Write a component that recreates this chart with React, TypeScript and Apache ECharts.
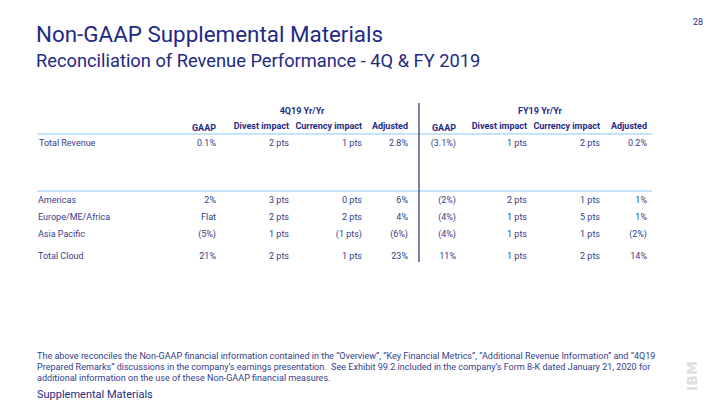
import React, { useEffect, useRef } from "react";
import * as echarts from "echarts";

const pageTitle = "Non-GAAP Supplemental Materials";
const pageSubtitle = "Reconciliation of Revenue Performance - 4Q & FY 2019";
const pageNumber = "28";
const groupLabels = ["4Q19 Yr/Yr", "FY19 Yr/Yr"];
const columnHeaders = ["GAAP", "Divest impact", "Currency impact", "Adjusted", "GAAP", "Divest impact", "Currency impact", "Adjusted"];
const rowLabels = ["Total Revenue", "Americas", "Europe/ME/Africa", "Asia Pacific", "Total Cloud"];
const q4Gaap = ["0.1%", "2%", "Flat", "(5%)", "21%"];
const q4Divest = ["2 pts", "3 pts", "2 pts", "1 pts", "2 pts"];
const q4Currency = ["1 pts", "0 pts", "2 pts", "(1 pts)", "1 pts"];
const q4Adjusted = ["2.8%", "6%", "4%", "(6%)", "23%"];
const fyGaap = ["(3.1%)", "(2%)", "(4%)", "(4%)", "11%"];
const fyDivest = ["1 pts", "2 pts", "1 pts", "1 pts", "1 pts"];
const fyCurrency = ["2 pts", "1 pts", "5 pts", "1 pts", "2 pts"];
const fyAdjusted = ["0.2%", "1%", "1%", "(2%)", "14%"];
const footnoteLines = [
  "The above reconciles the Non-GAAP financial information contained in the \u201cOverview\u201d, \u201cKey Financial Metrics\u201d, \u201cAdditional Revenue Information\u201d and \u201c4Q19",
  "Prepared Remarks\u201d discussions in the company\u2019s earnings presentation.  See Exhibit 99.2 included in the company\u2019s Form 8-K dated January 21, 2020 for",
  "additional information on the use of these Non-GAAP financial measures.",
];
const footerLabel = "Supplemental Materials";
const logoText = "IBM";

const NAVY = "#1f2a85";
const TABLE_TEXT = "#34408a";
const LINE_BLUE = "#8ccaf7";
const FONT = "Roboto";

export default function App() {
  const ref = useRef<HTMLDivElement>(null);
  useEffect(() => {
    if (!ref.current) return;
    const chart = echarts.init(ref.current, undefined, { renderer: "svg" });
    const colRight = [216, 289, 362, 408, 456, 527, 600, 647];
    const rowY = [143, 200, 217, 234, 256];
    const columns = [q4Gaap, q4Divest, q4Currency, q4Adjusted, fyGaap, fyDivest, fyCurrency, fyAdjusted];
    const els: any[] = [];
    const txt = (x: number, y: number, text: string, size: number, opts: any = {}) => ({
      type: "text",
      x,
      y,
      silent: true,
      style: {
        text,
        fontFamily: FONT,
        fontSize: size,
        fill: opts.fill || TABLE_TEXT,
        fontWeight: opts.weight || "normal",
        align: opts.align || "left",
        verticalAlign: "middle",
      },
    });
    els.push(txt(36, 34, pageTitle, 22.4, { fill: NAVY }));
    els.push(txt(36, 60, pageSubtitle, 18.3, { fill: NAVY }));
    els.push(txt(693, 22, pageNumber, 9, { fill: NAVY }));
    els.push(txt(302, 111, groupLabels[0], 9, { fill: NAVY, weight: "bold", align: "center" }));
    els.push(txt(540, 111, groupLabels[1], 9, { fill: NAVY, weight: "bold", align: "center" }));
    columnHeaders.forEach((h, i) => {
      const y = h === "GAAP" ? 128 : 126;
      els.push(txt(colRight[i], y, h, 9, { fill: NAVY, weight: "bold", align: "right" }));
    });
    els.push({ type: "line", silent: true, shape: { x1: 37, y1: 134, x2: 652, y2: 134 }, style: { stroke: LINE_BLUE, lineWidth: 1.2 } });
    els.push({ type: "line", silent: true, shape: { x1: 37, y1: 191, x2: 652, y2: 191 }, style: { stroke: LINE_BLUE, lineWidth: 1.2 } });
    els.push({ type: "line", silent: true, shape: { x1: 419, y1: 103, x2: 419, y2: 262 }, style: { stroke: NAVY, lineWidth: 1.2 } });
    rowLabels.forEach((r, ri) => {
      els.push(txt(ri === 0 ? 39 : 38, rowY[ri], r, 9));
      columns.forEach((col, ci) => {
        els.push(txt(colRight[ci], rowY[ri], col[ri], 9, { align: "right" }));
      });
    });
    const footY = [356, 367, 378];
    footnoteLines.forEach((l, i) => els.push(txt(37, footY[i], l, 9.05)));
    els.push(txt(37, 394, footerLabel, 11, { fill: NAVY }));
    els.push({
      type: "text",
      x: 692,
      y: 376,
      rotation: Math.PI / 2,
      silent: true,
      style: { text: logoText, fontFamily: "DejaVu Sans", fontWeight: "bold", fontSize: 14, fill: "#cdcdcd", align: "center", verticalAlign: "middle" },
    });
    for (let k = 0; k < 8; k++) {
      const x = 685 + k * 2 + 1;
      els.push({ type: "line", silent: true, shape: { x1: x, y1: 358, x2: x, y2: 395 }, style: { stroke: "#ffffff", lineWidth: 0.7 } });
    }
    chart.setOption({ animation: false, backgroundColor: "#ffffff", graphic: { elements: els } });
    return () => chart.dispose();
  }, []);
  return <div ref={ref} style={{ position: "fixed", left: 0, top: 0, width: 720, height: 405 }} />;
}
